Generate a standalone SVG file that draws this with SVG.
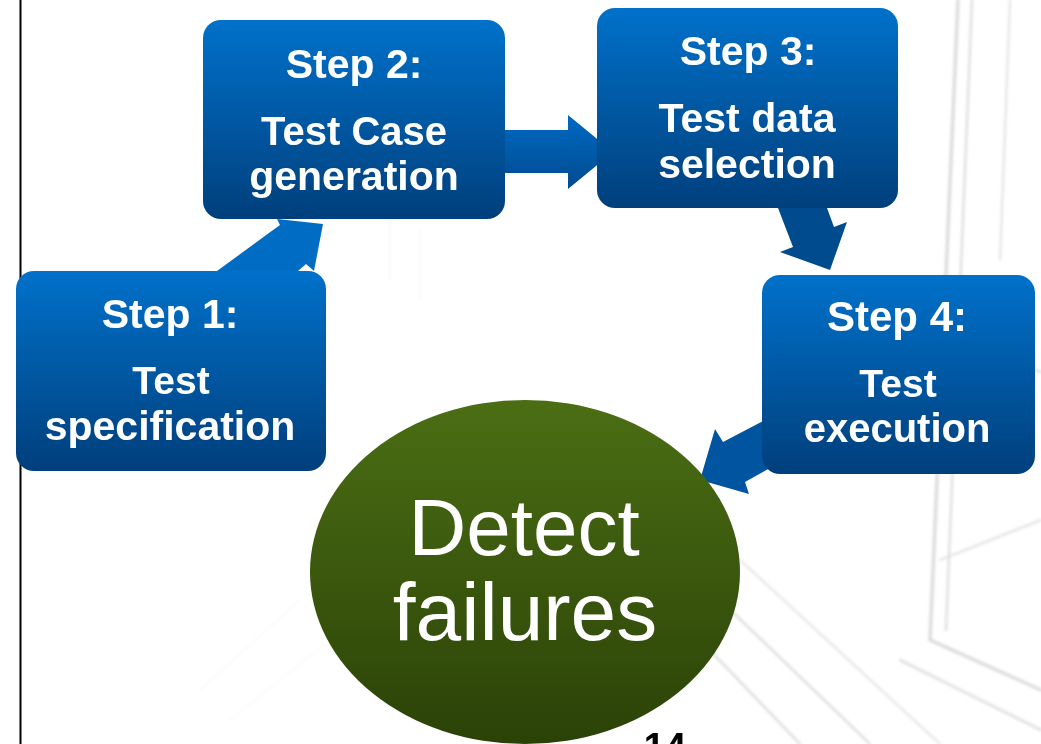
<svg xmlns="http://www.w3.org/2000/svg" width="1041" height="744" viewBox="0 0 1041 744">
  <defs>
    <linearGradient id="boxFill" x1="0" y1="0" x2="0" y2="1">
      <stop offset="0" stop-color="#0071ca"/>
      <stop offset="1" stop-color="#003f7c"/>
    </linearGradient>
    <linearGradient id="arrowFill" x1="0" y1="0" x2="0" y2="1">
      <stop offset="0" stop-color="#006ac2"/>
      <stop offset="1" stop-color="#004a90"/>
    </linearGradient>
    <linearGradient id="ellipseFill" x1="0" y1="0" x2="0" y2="1">
      <stop offset="0" stop-color="#4b6e14"/>
      <stop offset="1" stop-color="#2b4207"/>
    </linearGradient>
    <filter id="soft" x="-5%" y="-5%" width="110%" height="110%">
      <feGaussianBlur stdDeviation="1.8"/>
    </filter>
    <style>
      .box { fill: url(#boxFill); }
      .label { font-family: "Liberation Sans", Arial, sans-serif; font-weight: bold; fill: #ffffff; text-anchor: middle; }
      .big { font-family: "Liberation Sans", Arial, sans-serif; fill: #ffffff; text-anchor: middle; }
      .sketch { fill: none; stroke: #9a9a9a; stroke-linecap: round; }
    </style>
  </defs>

  <rect width="1041" height="744" fill="#ffffff"/>

  <!-- faint pencil-sketch backdrop -->
  <g id="backdrop" filter="url(#soft)" opacity="0.4">
    <path class="sketch" stroke-width="3" d="M958 0 L930 640"/>
    <path class="sketch" stroke-width="2" d="M972 0 L946 630"/>
    <path class="sketch" stroke-width="1.5" d="M1010 0 L1000 260"/>
    <path class="sketch" stroke-width="2" d="M952 345 L1041 372"/>
    <path class="sketch" stroke-width="1.5" d="M940 560 L1041 520"/>
    <path class="sketch" stroke-width="3" d="M930 640 L1041 690"/>
    <path class="sketch" stroke-width="2" d="M900 660 L1041 730"/>
    <path class="sketch" stroke-width="2" d="M720 600 L870 744"/>
    <path class="sketch" stroke-width="2" d="M700 640 L800 744"/>
    <path class="sketch" stroke-width="1.5" d="M740 560 L940 744"/>
    <path class="sketch" stroke-width="1" d="M200 690 L300 600" opacity="0.3"/>
    <path class="sketch" stroke-width="1" d="M230 720 L330 640" opacity="0.3"/>
    <path class="sketch" stroke-width="1" d="M390 120 L390 280" opacity="0.3"/>
    <path class="sketch" stroke-width="1" d="M420 230 L420 300" opacity="0.3"/>
  </g>

  <!-- left margin rule -->
  <line x1="20.5" y1="0" x2="20.5" y2="744" stroke="#000000" stroke-width="2"/>

  <!-- connectors -->
  <g id="connectors">
    <polygon fill="#006cc3" points="277,219 323,224 314,271 306,264 298,271 217,271 280,225"/>
    <polygon fill="url(#arrowFill)" points="505,130 568,130 568,115 613,152 568,189 568,173 505,173"/>
    <polygon fill="#004b8e" points="778,208 827,208 834,227 847,222 830,270 780,252 793,247"/>
    <polygon fill="#0054a0" points="700,480 715,429 723,442 765,420 770,468 745,482 749,494"/>
  </g>

  <g id="step2">
    <rect class="box" x="203" y="20" width="302" height="199" rx="18"/>
    <text class="label" x="354" y="78" font-size="41">Step 2:</text>
    <text class="label" x="354" y="145" font-size="40">Test Case</text>
    <text class="label" x="354" y="190" font-size="41">generation</text>
  </g>

  <g id="step3">
    <rect class="box" x="597" y="8" width="301" height="200" rx="18"/>
    <text class="label" x="748" y="65" font-size="41">Step 3:</text>
    <text class="label" x="747" y="132" font-size="41">Test data</text>
    <text class="label" x="747" y="178" font-size="41">selection</text>
  </g>

  <g id="step1">
    <rect class="box" x="16" y="271" width="310" height="200" rx="18"/>
    <text class="label" x="170" y="328" font-size="41">Step 1:</text>
    <text class="label" x="171" y="394" font-size="39">Test</text>
    <text class="label" x="170" y="440" font-size="41">specification</text>
  </g>

  <g id="step4">
    <rect class="box" x="762" y="275" width="273" height="199" rx="18"/>
    <text class="label" x="897" y="331" font-size="42">Step 4:</text>
    <text class="label" x="898" y="397" font-size="39">Test</text>
    <text class="label" x="897" y="442" font-size="40">execution</text>
  </g>

  <g id="detect">
    <ellipse cx="525" cy="572" rx="215" ry="172" fill="url(#ellipseFill)"/>
    <text class="big" x="524" y="555" font-size="80">Detect</text>
    <text class="big" x="525" y="640" font-size="82">failures</text>
  </g>

  <!-- page number -->
  <text x="665" y="760" font-family="Liberation Sans, Arial, sans-serif" font-weight="bold" font-size="38" fill="#000000" text-anchor="middle">14</text>
</svg>
